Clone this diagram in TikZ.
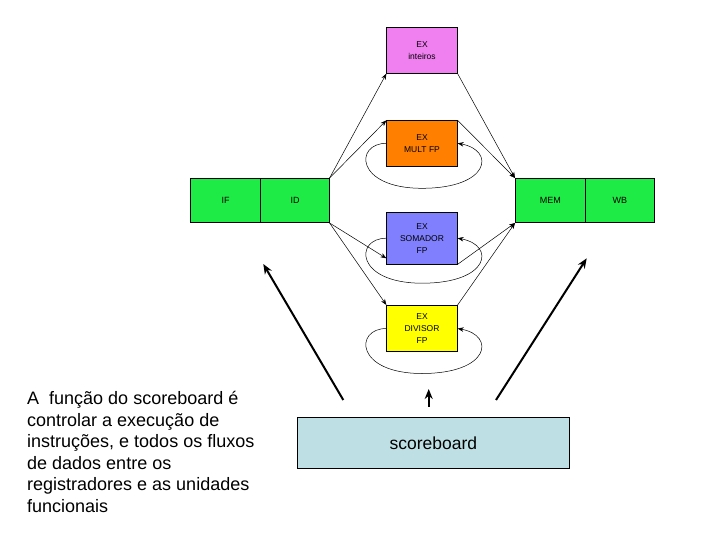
\documentclass[tikz,border=0pt]{standalone}
\usepackage{fontspec}
\setmainfont{Liberation Sans}
\usetikzlibrary{arrows.meta,calc}
\definecolor{stagegreen}{RGB}{30,235,70}
\definecolor{exint}{RGB}{240,128,240}
\definecolor{exmult}{RGB}{255,128,0}
\definecolor{exadd}{RGB}{128,128,255}
\definecolor{exdiv}{RGB}{255,255,0}
\definecolor{sbfill}{RGB}{190,224,228}
\begin{document}
\begin{tikzpicture}[x=1pt,y=-1pt,
  unit/.style={draw=black, line width=0.6pt, minimum width=70.6pt, inner sep=0pt, align=center, font=\fontsize{8.5}{12}\selectfont},
  stage/.style={draw=black, line width=0.6pt, fill=stagegreen, minimum height=44.4pt, inner sep=0pt, font=\fontsize{9}{12}\selectfont},
  flow/.style={line width=0.5pt, -{Stealth[length=6pt,width=4.5pt]}},
  ctrl/.style={line width=2pt, -{Stealth[length=10pt,width=8pt]}}]
\useasboundingbox[fill=white] (0,0) rectangle (720,540);

\node[unit, fill=exint, minimum height=46pt] (exi) at (422,50.3) {EX\\inteiros};
\node[unit, fill=exmult, minimum height=45.3pt] (exm) at (422,143.3) {EX\\MULT FP};
\node[unit, fill=exadd, minimum height=51.7pt] (exa) at (422,238.2) {EX\\SOMADOR\\FP};
\node[unit, fill=exdiv, minimum height=46.4pt] (exd) at (422,328.5) {EX\\DIVISOR\\FP};
\node[stage, minimum width=70pt] (if) at (225.7,200.5) {IF};
\node[stage, minimum width=68.6pt] (id) at (295,200.5) {ID};
\node[stage, minimum width=70pt] (mem) at (550.3,200.5) {MEM};
\node[stage, minimum width=69pt] (wb) at (619.8,200.5) {WB};

\draw[flow] (id.north east) -- (exi.south west);
\draw[flow] (id.north east) -- (exm.north west);
\draw[flow] (id.south east) -- ([yshift=6pt]exa.south west);
\draw[flow] (id.south east) -- (exd.north west);
\draw[flow] (exi.south east) -- (mem.north west);
\draw[flow] (exm.north east) -- (mem.north west);
\draw[flow] (exa.south east) -- (mem.south west);
\draw[flow] (exd.north east) -- (mem.south west);

\foreach \n in {exm,exa,exd}
  \draw[flow] (\n.west) .. controls +(-32,0) and +(-67,0) .. ($(\n.center)+(0,45)$) .. controls +(68,0) and +(38,7) .. (\n.east);

\node[draw=black, line width=0.8pt, fill=sbfill, minimum width=272pt, minimum height=51pt, inner sep=0pt, font=\fontsize{17.5}{21}\selectfont] (sb) at (433.3,442.8) {scoreboard};

\coordinate (lt) at (263.3,264); \coordinate (lb) at (343.3,400);
\coordinate (rt) at (586.7,258.3); \coordinate (rb) at (496,400);
\coordinate (ct) at (428.7,389); \coordinate (cb) at (428.7,406.7);
\draw[ctrl] (lb) -- (lt);
\draw[ctrl] (rb) -- (rt);
\draw[ctrl] (cb) -- (ct);

\node[anchor=north west, inner sep=0pt, align=left, font=\fontsize{18}{21.6}\selectfont] (txt) at (27,391)
 {A\ \ função do scoreboard é\\controlar a execução de\\instruções, e todos os fluxos\\de dados entre os\\registradores e as unidades\\funcionais};
\end{tikzpicture}
\end{document}
